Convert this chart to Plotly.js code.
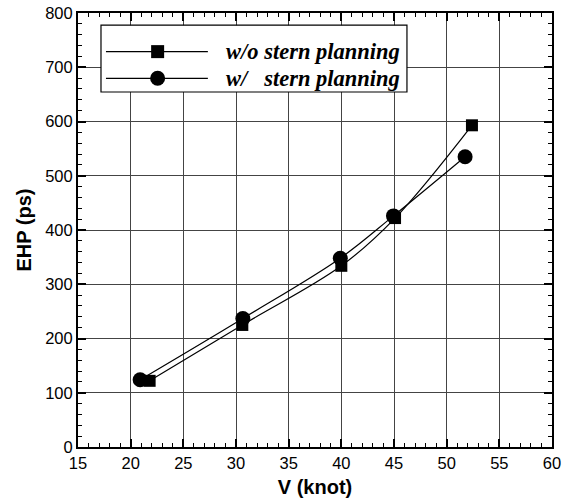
<!DOCTYPE html>
<html>
<head>
<meta charset="utf-8">
<script src="https://cdn.plot.ly/plotly-3.0.1.min.js"></script>
<style>html,body{margin:0;padding:0;background:#fff;}#chart{width:570px;height:504px;}</style>
</head>
<body>
<div id="chart"></div>
<script>
// Data
const speedWithout = [21.8, 30.6, 40.0, 45.1, 52.4];
const ehpWithout   = [122, 225, 334, 422, 593];
const speedWith    = [20.9, 30.65, 39.9, 44.95, 51.75];
const ehpWith      = [124, 237, 348, 426, 535];
const seriesNames  = ["w/o stern planning", "w/\u00a0\u00a0\u00a0stern planning"];
const xTicks = [15, 20, 25, 30, 35, 40, 45, 50, 55, 60];
const yTicks = [0, 100, 200, 300, 400, 500, 600, 700, 800];

const traces = [
  {x: speedWithout, y: ehpWithout, mode: 'lines+markers', name: seriesNames[0],
   line: {color: '#000', width: 1.2, shape: 'spline'},
   marker: {symbol: 'square', size: 12, color: '#000'}},
  {x: speedWith, y: ehpWith, mode: 'lines+markers', name: seriesNames[1],
   line: {color: '#000', width: 1.2, shape: 'spline'},
   marker: {symbol: 'circle', size: 15, color: '#000'}}
];

const legX0 = 0.0485, legX1 = 0.694, legY0 = 0.818, legY1 = 0.972;
const rowY = [0.911, 0.8495];
const lineX0 = 0.059, lineX1 = 0.274, markX = 0.168, textX = 0.308;

const shapes = [
  {type: 'rect', xref: 'paper', yref: 'paper', x0: legX0, x1: legX1, y0: legY0, y1: legY1,
   line: {color: '#000', width: 1.2}, fillcolor: '#fff', layer: 'above'}
];
rowY.forEach(function (yy) {
  shapes.push({type: 'line', xref: 'paper', yref: 'paper', x0: lineX0, x1: lineX1, y0: yy, y1: yy,
               line: {color: '#000', width: 1.2}, layer: 'above'});
});
shapes.push({type: 'rect', xref: 'paper', yref: 'paper', xsizemode: 'pixel', ysizemode: 'pixel',
             xanchor: markX, yanchor: rowY[0], x0: -6.5, x1: 6.5, y0: -6.5, y1: 6.5,
             fillcolor: '#000', line: {width: 0}, layer: 'above'});
shapes.push({type: 'circle', xref: 'paper', yref: 'paper', xsizemode: 'pixel', ysizemode: 'pixel',
             xanchor: markX, yanchor: rowY[1], x0: -7.5, x1: 7.5, y0: -7.5, y1: 7.5,
             fillcolor: '#000', line: {width: 0}, layer: 'above'});

const annotations = seriesNames.map(function (t, i) {
  return {xref: 'paper', yref: 'paper', x: textX, y: rowY[i], xanchor: 'left', yanchor: 'middle',
          text: '<b><i>' + t + '</i></b>', showarrow: false,
          font: {family: 'Liberation Serif, Times New Roman, serif', size: 22.5, color: '#000'}};
});

const axisCommon = {
  showline: true, linecolor: '#000', linewidth: 2, mirror: 'ticks',
  ticks: 'inside', ticklen: 8, tickwidth: 2, tickcolor: '#000',
  showgrid: true, gridcolor: '#444', gridwidth: 1, zeroline: false,
  tickfont: {family: 'Liberation Sans, Arial, sans-serif', size: 16.5, color: '#000'}
};

const layout = {
  width: 570, height: 504,
  margin: {l: 78, r: 18, t: 13, b: 57},
  paper_bgcolor: '#fff', plot_bgcolor: '#fff',
  showlegend: false,
  xaxis: Object.assign({}, axisCommon, {
    range: [15, 60], tickvals: xTicks, ticktext: xTicks.map(String),
    minor: {dtick: 1, ticks: 'inside', ticklen: 4, tickwidth: 1, tickcolor: '#000', showgrid: false},
    title: {text: '<b>V (knot)</b>', standoff: 9,
            font: {family: 'Liberation Sans, Arial, sans-serif', size: 20, color: '#000'}}
  }),
  yaxis: Object.assign({}, axisCommon, {
    range: [0, 800], tickvals: yTicks, ticktext: yTicks.map(String),
    minor: {dtick: 20, ticks: 'inside', ticklen: 4, tickwidth: 1, tickcolor: '#000', showgrid: false},
    title: {text: '<b>EHP (ps)</b>', standoff: 8,
            font: {family: 'Liberation Sans, Arial, sans-serif', size: 20, color: '#000'}}
  }),
  shapes: shapes,
  annotations: annotations
};

Plotly.newPlot('chart', traces, layout, {displayModeBar: false, staticPlot: true});
</script>
</body>
</html>
